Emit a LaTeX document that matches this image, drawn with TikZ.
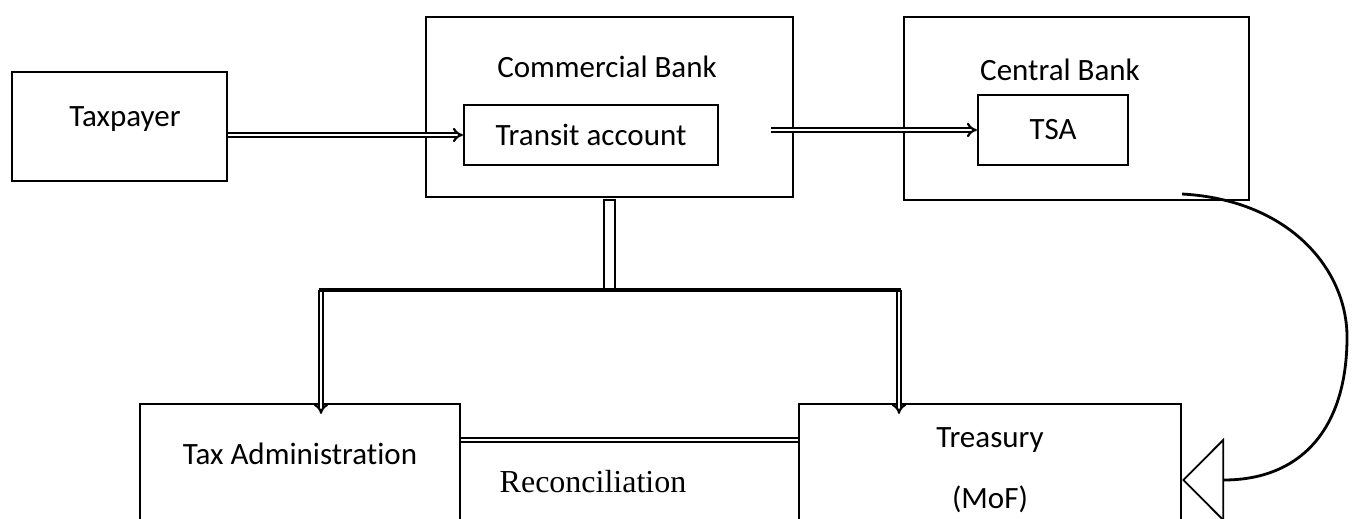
\documentclass[tikz,border=0pt]{standalone}
\usepackage{fontspec}
\setmainfont{Carlito}[Ligatures=CommonOff]
\newfontfamily\timesfont{Liberation Serif}
\usetikzlibrary{arrows.meta}
\begin{document}
\begin{tikzpicture}
	[x=0.5pt, y=-0.5pt, font=\fontsize{15.5}{18}\selectfont,
	box/.style={draw, line width=1.1pt, inner sep=0pt},
	lbl/.style={inner sep=0pt},
	dblarrow/.style={draw, double, line width=1.1pt, double distance=1.2pt, -{Implies}}]
	\useasboundingbox (0,0) rectangle (1354,519);
	% boxes
	\node[box, minimum width=107.5pt, minimum height=54.5pt] (taxpayer) at (119.5,126.5) {};
	\node[box, minimum width=183.5pt, minimum height=90pt] (cbank) at (609.5,107) {};
	\node[box, minimum width=127pt, minimum height=30pt] (transit) at (591,135) {Transit account};
	\node[box, minimum width=172.5pt, minimum height=91.5pt] (central) at (1076.5,108.5) {};
	\node[box, minimum width=75pt, minimum height=35pt] (tsa) at (1053,130) {TSA};
	\node[box, minimum width=160pt, minimum height=76pt] (taxadm) at (300,480) {};
	\node[box, minimum width=191pt, minimum height=76pt] (treasury) at (990,480) {};
	% texts
	\node[lbl] (taxpayer-t) at (125,119) {Taxpayer};
	\node[lbl] (cbank-t) at (607,67) {Commercial Bank};
	\node[lbl] (central-t) at (1060,70) {Central Bank};
	\node[lbl] (taxadm-t) at (300,454) {Tax Administration};
	\node[lbl] (treasury-t) at (990,440) {Treasury};
	\node[lbl] (mof-t) at (990,499) {(MoF)};
	\node[lbl, font=\timesfont\fontsize{16}{19}\selectfont] (recon) at (593,482) {Reconciliation};
	% joints
	\coordinate (split) at (609.5,290);
	\coordinate (ljoin) at (321,290);
	\coordinate (rjoin) at (899,290);
	\coordinate (cbcurve) at (1182,194);
	% flows
	\draw[dblarrow] (transit.west -| taxpayer.east) -- (transit.west);
	\draw[dblarrow] ([xshift=-11.5pt]cbank.east |- tsa.west) -- (tsa.west);
	\draw[line width=1.1pt] ([xshift=-2.6pt,yshift=-1pt]cbank.south) rectangle ([xshift=2.6pt]split);
	\draw[dblarrow] (ljoin) -- ([yshift=-5.5pt]ljoin |- taxadm.north);
	\draw[dblarrow] (rjoin) -- ([yshift=-5.5pt]rjoin |- treasury.north);
	\draw[line width=2.2pt, line cap=rect] (ljoin) -- (rjoin);
	\draw[double, line width=1.1pt, double distance=1.2pt] ([yshift=20pt]taxadm.east) -- ([yshift=20pt]treasury.west);
	\draw[line width=1.4pt, -{Triangle[open, length=21pt, width=42pt, line width=0.9pt]}]
		(cbcurve) .. controls (1290,200) and (1347,270) .. (1347,337)
		.. controls (1347,430) and (1300,480) .. (treasury.east);
\end{tikzpicture}
\end{document}
